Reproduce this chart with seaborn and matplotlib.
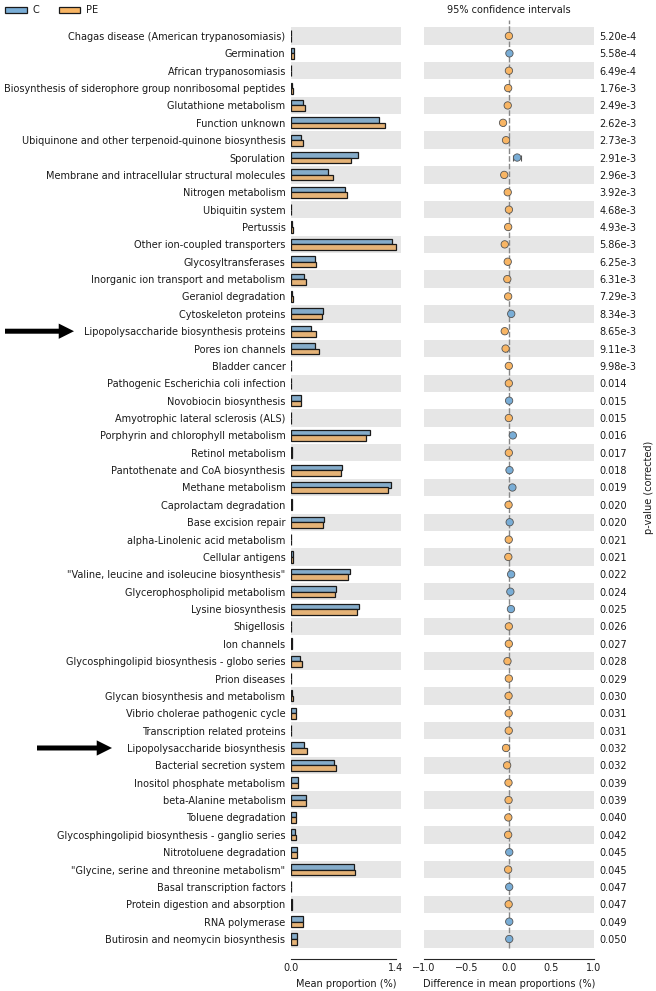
import matplotlib
matplotlib.use("Agg")
import matplotlib.pyplot as plt
from matplotlib.patches import Rectangle
import seaborn as sns
import pandas as pd
import numpy as np

categories = [
    "Chagas disease (American trypanosomiasis)", "Germination", "African trypanosomiasis",
    "Biosynthesis of siderophore group nonribosomal peptides", "Glutathione metabolism",
    "Function unknown", "Ubiquinone and other terpenoid-quinone biosynthesis", "Sporulation",
    "Membrane and intracellular structural molecules", "Nitrogen metabolism", "Ubiquitin system",
    "Pertussis", "Other ion-coupled transporters", "Glycosyltransferases",
    "Inorganic ion transport and metabolism", "Geraniol degradation", "Cytoskeleton proteins",
    "Lipopolysaccharide biosynthesis proteins", "Pores ion channels", "Bladder cancer",
    "Pathogenic Escherichia coli infection", "Novobiocin biosynthesis",
    "Amyotrophic lateral sclerosis (ALS)", "Porphyrin and chlorophyll metabolism",
    "Retinol metabolism", "Pantothenate and CoA biosynthesis", "Methane metabolism",
    "Caprolactam degradation", "Base excision repair", "alpha-Linolenic acid metabolism",
    "Cellular antigens", "\"Valine, leucine and isoleucine biosynthesis\"",
    "Glycerophospholipid metabolism", "Lysine biosynthesis", "Shigellosis", "Ion channels",
    "Glycosphingolipid biosynthesis - globo series", "Prion diseases",
    "Glycan biosynthesis and metabolism", "Vibrio cholerae pathogenic cycle",
    "Transcription related proteins", "Lipopolysaccharide biosynthesis",
    "Bacterial secretion system", "Inositol phosphate metabolism", "beta-Alanine metabolism",
    "Toluene degradation", "Glycosphingolipid biosynthesis - ganglio series",
    "Nitrotoluene degradation", "\"Glycine, serine and threonine metabolism\"",
    "Basal transcription factors", "Protein digestion and absorption", "RNA polymerase",
    "Butirosin and neomycin biosynthesis",
]

c_values = [
    0.003, 0.040, 0.003, 0.020, 0.165, 1.180, 0.129, 0.900, 0.498, 0.715, 0.003,
    0.020, 1.347, 0.315, 0.178, 0.020, 0.427, 0.271, 0.315, 0.003, 0.003, 0.133,
    0.005, 1.053, 0.010, 0.676, 1.338, 0.010, 0.436, 0.003, 0.025, 0.787, 0.604,
    0.907, 0.003, 0.008, 0.120, 0.003, 0.020, 0.071, 0.003, 0.173, 0.573, 0.098,
    0.196, 0.067, 0.053, 0.084, 0.840, 0.003, 0.010, 0.156, 0.076,
]

pe_values = [
    0.003, 0.040, 0.003, 0.022, 0.187, 1.253, 0.156, 0.795, 0.560, 0.742, 0.003,
    0.022, 1.400, 0.338, 0.200, 0.022, 0.409, 0.329, 0.369, 0.003, 0.003, 0.133,
    0.005, 1.004, 0.011, 0.667, 1.293, 0.011, 0.427, 0.003, 0.027, 0.764, 0.587,
    0.884, 0.003, 0.008, 0.142, 0.003, 0.022, 0.072, 0.003, 0.209, 0.600, 0.100,
    0.198, 0.069, 0.062, 0.084, 0.853, 0.003, 0.011, 0.156, 0.076,
]

diff_values = [
    -0.001, 0.005, -0.001, -0.010, -0.015, -0.070, -0.035, 0.096, -0.056, -0.015, -0.001,
    -0.010, -0.050, -0.015, -0.020, -0.010, 0.026, -0.050, -0.040, -0.002, -0.002, 0.001,
    -0.002, 0.045, -0.002, 0.006, 0.040, -0.005, 0.008, -0.003, -0.008, 0.025, 0.016,
    0.023, -0.002, -0.002, -0.018, -0.002, -0.005, -0.004, -0.003, -0.035, -0.022, -0.006,
    -0.005, -0.008, -0.010, 0.003, -0.010, 0.002, -0.004, 0.003, 0.003,
]

ci_half = [
    0.002, 0.002, 0.002, 0.003, 0.005, 0.012, 0.006, 0.045, 0.012, 0.006, 0.002,
    0.003, 0.012, 0.005, 0.005, 0.003, 0.007, 0.012, 0.012, 0.002, 0.002, 0.003,
    0.002, 0.012, 0.002, 0.005, 0.010, 0.002, 0.005, 0.002, 0.003, 0.006, 0.006,
    0.006, 0.002, 0.002, 0.004, 0.002, 0.003, 0.003, 0.002, 0.010, 0.006, 0.003,
    0.004, 0.003, 0.003, 0.003, 0.006, 0.002, 0.002, 0.003, 0.003,
]

p_labels = [
    "5.20e-4", "5.58e-4", "6.49e-4", "1.76e-3", "2.49e-3", "2.62e-3", "2.73e-3", "2.91e-3",
    "2.96e-3", "3.92e-3", "4.68e-3", "4.93e-3", "5.86e-3", "6.25e-3", "6.31e-3", "7.29e-3",
    "8.34e-3", "8.65e-3", "9.11e-3", "9.98e-3", "0.014", "0.015", "0.015", "0.016", "0.017",
    "0.018", "0.019", "0.020", "0.020", "0.021", "0.021", "0.022", "0.024", "0.025", "0.026",
    "0.027", "0.028", "0.029", "0.030", "0.031", "0.031", "0.032", "0.032", "0.039", "0.039",
    "0.040", "0.042", "0.045", "0.045", "0.047", "0.047", "0.049", "0.050",
]

groups = ["C", "PE"]
arrow_rows = ["Lipopolysaccharide biosynthesis proteins", "Lipopolysaccharide biosynthesis"]

BLUE = "#79ADD6"
ORANGE = "#F8B564"
BAND = "#E6E6E6"
palette = {"C": BLUE, "PE": ORANGE}

sns.set_style("white")
plt.rcParams["font.family"] = ["DejaVu Sans"]
plt.rcParams["text.color"] = "#1a1a1a"
plt.rcParams["xtick.color"] = "#1a1a1a"
plt.rcParams["ytick.color"] = "#1a1a1a"
plt.rcParams["axes.labelcolor"] = "#1a1a1a"
FS = 7.0

n = len(categories)
long_df = pd.DataFrame({
    "category": categories * 2,
    "value": c_values + pe_values,
    "group": ["C"] * n + ["PE"] * n,
})
diff_df = pd.DataFrame({
    "pos": np.arange(n),
    "diff": diff_values,
    "ci": ci_half,
    "higher": ["C" if d > 0 else "PE" for d in diff_values],
})

W, H = 656, 991
fig = plt.figure(figsize=(W / 100, H / 100), dpi=100)
top_px, bot_px = 27.3, 947.7
ax_b = 1 - bot_px / H
ax_h = (bot_px - top_px) / H
ax_l = fig.add_axes([291 / W, ax_b, 110 / W, ax_h])
ax_r = fig.add_axes([424 / W, ax_b, 170 / W, ax_h])

for ax in (ax_l, ax_r):
    for i in range(0, n, 2):
        ax.axhspan(i - 0.5, i + 0.5, color=BAND, zorder=0, lw=0)

# Left: mean proportions
sns.barplot(data=long_df, y="category", x="value", hue="group", hue_order=groups,
            palette=palette, orient="h", width=0.64, edgecolor="#1a1a1a", linewidth=0.9,
            errorbar=None, legend=False, ax=ax_l, zorder=2)
ax_l.set_xlim(0, 1.467)
ax_l.set_ylim(n - 0.5, -0.5)
ax_l.set_xticks([0, 1.4])
ax_l.set_xticklabels(["0.0", "1.4"])
ax_l.set_xlabel("Mean proportion (%)", fontsize=FS, labelpad=4)
ax_l.set_ylabel("")
ax_l.tick_params(axis="y", length=0, pad=4, labelsize=FS)
ax_l.tick_params(axis="x", direction="in", length=3, width=0.8, labelsize=FS, pad=3)
for s in ("left", "top", "right"):
    ax_l.spines[s].set_visible(False)
ax_l.spines["bottom"].set_position(("outward", 8))
ax_l.spines["bottom"].set_bounds(0, 1.4)
ax_l.spines["bottom"].set_linewidth(0.8)

# Right: differences with CI
ax_r.axvline(0, ymin=0, ymax=1 + 7.5 / (bot_px - top_px), color="#888888", lw=1,
             ls=(0, (4, 1.5)), zorder=1, clip_on=False)
ax_r.errorbar(diff_df["diff"], diff_df["pos"], xerr=diff_df["ci"], fmt="none",
              ecolor="#555555", elinewidth=0.8, capsize=2, capthick=0.8, zorder=3)
sns.scatterplot(data=diff_df, x="diff", y="pos", hue="higher", hue_order=groups,
                palette=palette, s=28, edgecolor="#555555", linewidth=0.6,
                legend=False, ax=ax_r, zorder=4)
ax_r.set_xlim(-1, 1)
ax_r.set_ylim(n - 0.5, -0.5)
ax_r.set_xticks([-1, -0.5, 0, 0.5, 1])
ax_r.set_xticklabels(["\u22121.0", "\u22120.5", "0.0", "0.5", "1.0"])
ax_r.set_xlabel("Difference in mean proportions (%)", fontsize=FS, labelpad=4)
ax_r.yaxis.tick_right()
ax_r.yaxis.set_label_position("right")
ax_r.set_yticks(np.arange(n))
ax_r.set_yticklabels(p_labels)
ax_r.set_ylabel("p-value (corrected)", fontsize=FS, labelpad=5)
ax_r.tick_params(axis="y", length=0, pad=4, labelsize=FS)
ax_r.tick_params(axis="x", direction="in", length=3, width=0.8, labelsize=FS, pad=3)
for s in ("left", "top", "right"):
    ax_r.spines[s].set_visible(False)
ax_r.spines["bottom"].set_position(("outward", 8))
ax_r.spines["bottom"].set_bounds(-1, 1)
ax_r.spines["bottom"].set_linewidth(0.8)

fig.text(509 / W, 1 - 10 / H, "95% confidence intervals", ha="center", va="center", fontsize=FS)

handles = [Rectangle((0, 0), 1, 1, facecolor=palette[g], edgecolor="#1a1a1a", lw=0.9) for g in groups]
fig.legend(handles, groups, loc="upper left", bbox_to_anchor=(0.0, 1.0), ncol=2, frameon=False,
           fontsize=FS, handlelength=2.2, handleheight=0.55, columnspacing=2.0,
           handletextpad=0.6, borderaxespad=0.35, borderpad=0.2)

# Arrows
arrow_x = {arrow_rows[0]: (5, 74), arrow_rows[1]: (37, 112)}
for name in arrow_rows:
    yi = categories.index(name)
    x0, x1 = arrow_x[name]
    ax_l.annotate("", xy=(x1 / W, yi), xytext=(x0 / W, yi),
                  xycoords=("figure fraction", "data"), textcoords=("figure fraction", "data"),
                  annotation_clip=False,
                  arrowprops=dict(arrowstyle="simple,head_width=1.1,head_length=1.1,tail_width=0.36",
                                  mutation_scale=10, color="black", shrinkA=0, shrinkB=0, lw=0))

fig.savefig("out.png", dpi=100)
